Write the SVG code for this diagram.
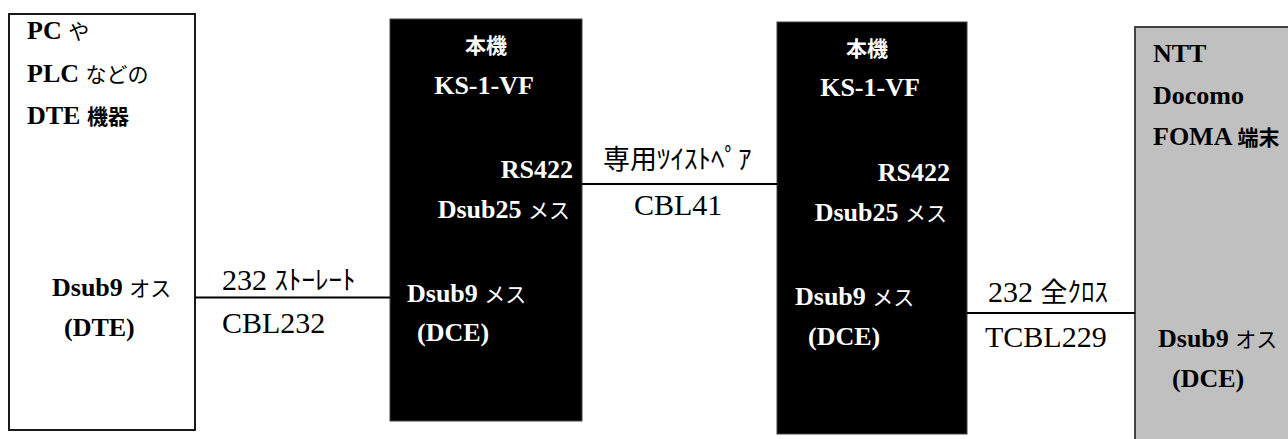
<svg xmlns="http://www.w3.org/2000/svg" width="1288" height="439" viewBox="0 0 1288 439">
<style>
.lbl{font-family:"Liberation Serif","Noto Sans CJK JP",serif;font-size:26px;font-weight:bold}
.lbl .j{font-family:"Noto Sans CJK JP",sans-serif;font-size:21px}
.lbl .n{font-weight:normal}
.w{fill:#fff}
.k{fill:#000}
.cl{font-family:"Liberation Serif","Noto Sans CJK JP",serif;font-size:30px;fill:#000}
.cl .j{font-family:"Noto Sans CJK JP",sans-serif;font-size:27px}
.wire{stroke:#000;stroke-width:2;fill:none}
</style>
<rect width="1288" height="439" fill="#fff"/>
<g id="dte">
<rect x="9" y="14" width="186" height="416" fill="#fff" stroke="#000" stroke-width="1.8"/>
<text class="lbl k" x="27" y="39">PC <tspan class="j n">や</tspan></text>
<text class="lbl k" x="27" y="82">PLC <tspan class="j n">などの</tspan></text>
<text class="lbl k" x="27" y="124">DTE <tspan class="j">機器</tspan></text>
<text class="lbl k" x="52" y="296">Dsub9 <tspan class="j n">オス</tspan></text>
<text class="lbl k" x="64" y="336">(DTE)</text>
</g>
<g id="unit1">
<rect x="390" y="19" width="192" height="402" fill="#000" stroke="#444" stroke-width="1"/>
<text class="lbl w" x="486" y="53" text-anchor="middle"><tspan class="j">本機</tspan></text>
<text class="lbl w" x="484" y="94" text-anchor="middle">KS-1-VF</text>
<text class="lbl w" x="573" y="178" text-anchor="end">RS422</text>
<text class="lbl w" x="570" y="218" text-anchor="end">Dsub25 <tspan class="j n">メス</tspan></text>
<text class="lbl w" x="407" y="302">Dsub9 <tspan class="j n">メス</tspan></text>
<text class="lbl w" x="417" y="341">(DCE)</text>
</g>
<g id="unit2">
<rect x="777" y="22" width="190" height="412" fill="#000" stroke="#444" stroke-width="1"/>
<text class="lbl w" x="867" y="56" text-anchor="middle"><tspan class="j">本機</tspan></text>
<text class="lbl w" x="870" y="96" text-anchor="middle">KS-1-VF</text>
<text class="lbl w" x="950" y="181" text-anchor="end">RS422</text>
<text class="lbl w" x="947" y="221" text-anchor="end">Dsub25 <tspan class="j n">メス</tspan></text>
<text class="lbl w" x="795" y="305">Dsub9 <tspan class="j n">メス</tspan></text>
<text class="lbl w" x="808" y="345">(DCE)</text>
</g>
<g id="foma">
<rect x="1135" y="27" width="170" height="430" fill="#c0c0c0" stroke="#333" stroke-width="1.8"/>
<text class="lbl k" x="1153" y="62">NTT</text>
<text class="lbl k" x="1153" y="104">Docomo</text>
<text class="lbl k" x="1153" y="145">FOMA <tspan class="j">端末</tspan></text>
<text class="lbl k" x="1158" y="347">Dsub9 <tspan class="j n">オス</tspan></text>
<text class="lbl k" x="1172" y="387">(DCE)</text>
</g>
<g id="connectors">
<line class="wire" x1="195" y1="297.5" x2="390" y2="297.5"/>
<line class="wire" x1="582" y1="184" x2="777" y2="184"/>
<line class="wire" x1="967" y1="313" x2="1135" y2="313"/>
<text class="cl" x="222" y="290">232 <tspan class="j">ｽﾄｰﾚｰﾄ</tspan></text>
<text class="cl" x="222" y="333">CBL232</text>
<text class="cl" x="603" y="169"><tspan class="j">専用ﾂｲｽﾄﾍﾟｱ</tspan></text>
<text class="cl" x="634" y="215">CBL41</text>
<text class="cl" x="988" y="302">232 <tspan class="j">全ｸﾛｽ</tspan></text>
<text class="cl" x="985" y="347">TCBL229</text>
</g>
</svg>
